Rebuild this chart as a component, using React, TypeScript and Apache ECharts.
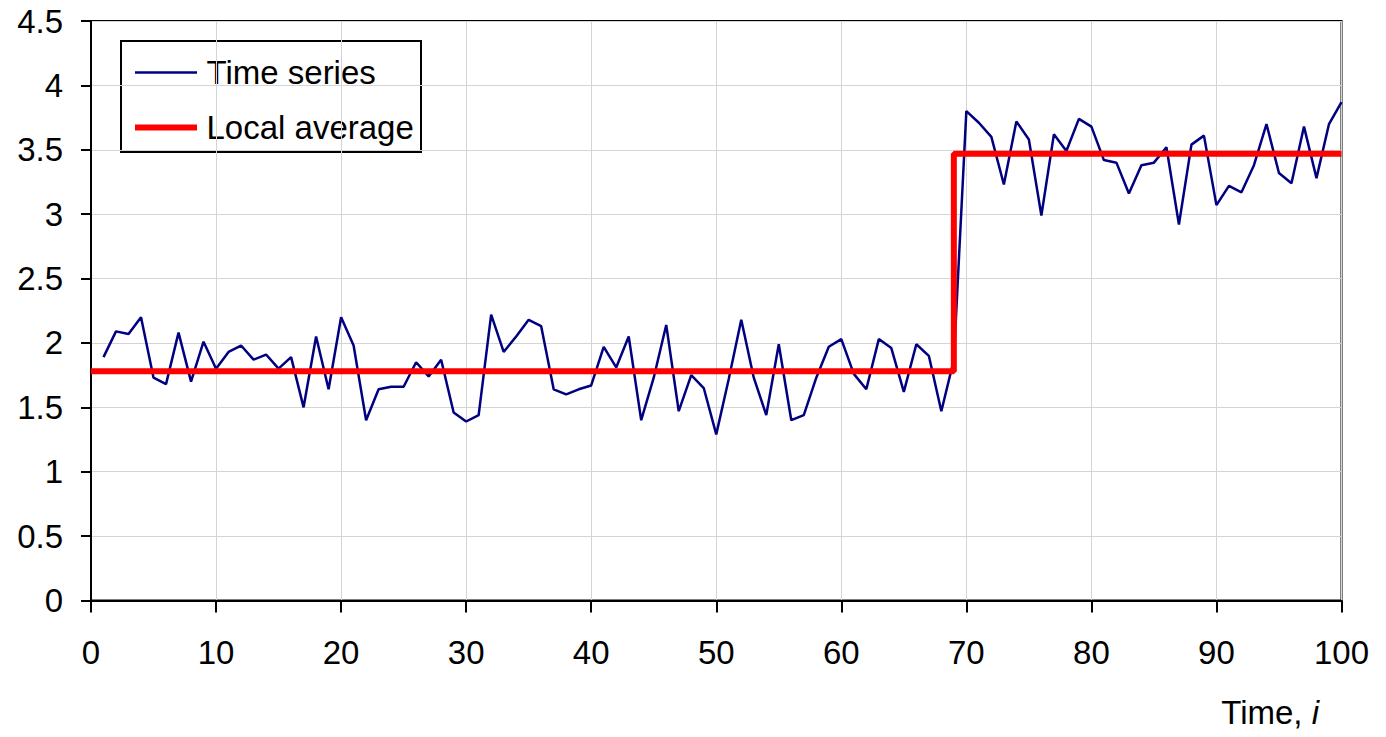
import React, { useEffect, useRef } from "react";
import * as echarts from "echarts";

// Time index i = 1..100 and observed values
const timeSeries: number[] = [
  1.89, 2.09, 2.07, 2.2, 1.73, 1.68, 2.08, 1.7, 2.01, 1.8,
  1.93, 1.98, 1.87, 1.91, 1.8, 1.89, 1.5, 2.05, 1.64, 2.2,
  1.98, 1.4, 1.64, 1.66, 1.66, 1.85, 1.74, 1.87, 1.46, 1.39,
  1.44, 2.22, 1.93, 2.05, 2.18, 2.13, 1.64, 1.6, 1.64, 1.67,
  1.97, 1.81, 2.05, 1.4, 1.73, 2.14, 1.47, 1.75, 1.65, 1.29,
  1.72, 2.18, 1.73, 1.44, 1.99, 1.4, 1.44, 1.73, 1.97, 2.03,
  1.76, 1.64, 2.03, 1.96, 1.62, 1.99, 1.9, 1.47, 1.87, 3.8,
  3.71, 3.6, 3.23, 3.72, 3.58, 2.99, 3.62, 3.49, 3.74, 3.68,
  3.42, 3.4, 3.16, 3.38, 3.4, 3.52, 2.92, 3.54, 3.61, 3.07,
  3.22, 3.17, 3.38, 3.7, 3.32, 3.24, 3.68, 3.28, 3.7, 3.87,
];
const firstIndex = 1;

// Local average: piecewise constant, breakpoints
const localAvgX: number[] = [0, 69, 69, 100];
const localAvgY: number[] = [1.78, 1.78, 3.47, 3.47];

const seriesNames = ["Time series", "Local average"];
const seriesColors = ["#000080", "#ff0000"];
const seriesWidths = [2.5, 6];

const xTicks = { min: 0, max: 100, interval: 10 };
const yTicks = { min: 0, max: 4.5, interval: 0.5 };

const FONT = "Liberation Sans, Arial, sans-serif";
const FS = 33;

export default function App() {
  const ref = useRef<HTMLDivElement>(null);
  useEffect(() => {
    if (!ref.current) return;
    const chart = echarts.init(ref.current, undefined, { renderer: "svg" });
    const tsData = timeSeries.map((v, k) => [firstIndex + k, v]);
    const avgData = localAvgX.map((x, k) => [x, localAvgY[k]]);

    // Legend drawn as graphic (box + line samples + labels)
    const legendX = 121;
    const legendY = 41;
    const rowY = [72.5, 127.5];
    const legendChildren: any[] = [
      {
        type: "rect",
        shape: { x: legendX, y: legendY, width: 300, height: 111 },
        style: { fill: "#fff", stroke: "#000", lineWidth: 2 },
      },
    ];
    seriesNames.forEach((name, k) => {
      legendChildren.push({
        type: "line",
        shape: { x1: 135, y1: rowY[k], x2: 197, y2: rowY[k] },
        style: { stroke: seriesColors[k], lineWidth: seriesWidths[k] },
      });
      legendChildren.push({
        type: "text",
        x: 206.5,
        y: rowY[k],
        style: {
          text: name,
          align: "left",
          verticalAlign: "middle",
          fontSize: FS,
          fontFamily: FONT,
          fill: "#000",
        },
      });
    });

    chart.setOption({
      animation: false,
      backgroundColor: "#ffffff",
      textStyle: { fontFamily: FONT },
      grid: {
        left: 91,
        top: 21,
        width: 1250.5,
        height: 579.5,
        show: true,
        borderColor: "#000",
        borderWidth: 2,
        containLabel: false,
      },
      xAxis: {
        type: "value",
        min: xTicks.min,
        max: xTicks.max,
        interval: xTicks.interval,
        axisLine: { show: true, lineStyle: { color: "#000", width: 2 }, onZero: false },
        axisTick: { show: true, length: 12, inside: false, lineStyle: { color: "#000", width: 2 } },
        axisLabel: { fontSize: FS, color: "#000", margin: 35, fontFamily: FONT },
        splitLine: { show: true, lineStyle: { color: "#d4d4d4", width: 1 } },
      },
      yAxis: {
        type: "value",
        min: yTicks.min,
        max: yTicks.max,
        interval: yTicks.interval,
        axisLine: { show: true, lineStyle: { color: "#000", width: 2 } },
        axisTick: { show: true, length: 10, inside: false, lineStyle: { color: "#000", width: 2 } },
        axisLabel: { fontSize: FS, color: "#000", margin: 28, fontFamily: FONT },
        splitLine: { show: true, lineStyle: { color: "#d4d4d4", width: 1 } },
      },
      graphic: [
        { type: "group", z: 100, children: legendChildren },
        {
          type: "text",
          x: 1319,
          y: 712,
          style: {
            text: "Time, {it|i}",
            align: "right",
            verticalAlign: "middle",
            fontSize: FS,
            fontFamily: FONT,
            fill: "#000",
            rich: {
              it: { fontStyle: "italic", fontSize: FS, fontFamily: FONT, fill: "#000" },
            },
          },
        },
      ],
      series: [
        {
          name: seriesNames[0],
          type: "line",
          data: tsData,
          symbol: "none",
          showSymbol: false,
          lineStyle: { color: seriesColors[0], width: seriesWidths[0] },
          itemStyle: { color: seriesColors[0] },
          z: 2,
        },
        {
          name: seriesNames[1],
          type: "line",
          data: avgData,
          symbol: "none",
          showSymbol: false,
          lineStyle: { color: seriesColors[1], width: seriesWidths[1] },
          itemStyle: { color: seriesColors[1] },
          z: 3,
        },
      ],
    });
    return () => chart.dispose();
  }, []);
  return (
    <div
      ref={ref}
      style={{ position: "absolute", left: 0, top: 0, width: 1386, height: 737 }}
    />
  );
}
